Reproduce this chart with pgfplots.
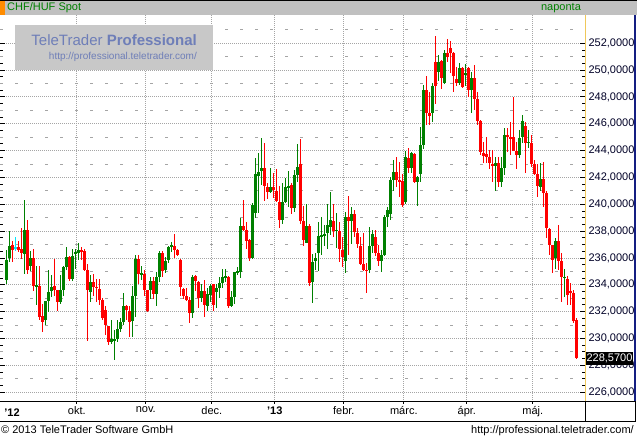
\documentclass[border=0pt]{standalone}
\usepackage{pgfplots}
\pgfplotsset{compat=1.18}
\usepackage{pgfplotstable}
\usepackage{fontspec}
\setmainfont{Liberation Sans}
\definecolor{cgreen}{RGB}{0,128,0}
\definecolor{cred}{RGB}{255,0,0}
\definecolor{ccyan}{RGB}{0,230,255}
\definecolor{titlegray}{RGB}{192,192,192}
\definecolor{gridgray}{RGB}{165,165,165}
\definecolor{ttorange}{RGB}{255,140,0}
\definecolor{ttgreen}{RGB}{0,128,0}
\definecolor{wmbox}{RGB}{200,200,200}
\definecolor{wmtext}{RGB}{110,126,184}
\definecolor{axyellow}{RGB}{240,200,90}
\definecolor{axnavy}{RGB}{20,30,130}

\pgfplotstableread{
i o h l c
0 234.35 236.6 234.1 235.84
1 235.97 238.0 235.7 236.9
2 236.96 237.3 235.7 236.6
3 236.77 237.6 236.5 236.77
4 236.84 237.25 236.47 236.6
5 236.7 238.2 235.9 236.35
6 236.3 240.3 234.8 238.1
7 238.1 238.8 234.8 235.1
8 235.4 236.5 235.05 235.97
9 235.97 236.7 233.56 233.9
10 233.9 235.4 232.5 234.0
11 233.9 235.4 231.4 231.6
12 231.67 232.6 230.5 231.2
13 231.4 232.8 231.0 232.8
14 232.8 235.1 232.0 233.5
15 233.56 234.7 233.1 233.86
16 233.9 235.95 233.2 233.6
17 233.6 233.65 232.07 232.75
18 232.75 234.7 232.6 233.6
19 233.6 235.4 233.2 235.3
20 235.3 236.8 235.1 236.05
21 236.1 236.15 234.3 234.4
22 234.4 236.7 234.3 236.15
23 236.3 236.7 235.2 236.47
24 236.4 237.1 235.85 236.6
25 236.6 236.84 235.85 236.5
26 236.55 236.7 235.05 235.1
27 235.1 235.55 229.8 233.6
28 233.5 234.7 232.75 234.2
29 234.2 234.8 233.2 233.86
30 233.86 234.4 232.75 233.8
31 233.7 234.4 232.5 232.9
32 232.9 233.0 231.4 231.5
33 232.1 232.4 230.3 231.0
34 230.9 230.95 229.5 229.76
35 229.76 231.4 229.6 229.93
36 229.8 230.6 228.4 230.0
37 230.0 231.4 229.76 230.7
38 230.7 231.5 230.5 231.2
39 231.25 233.4 231.0 232.4
40 232.4 232.5 231.4 232.1
41 232.07 232.4 230.1 231.25
42 231.3 233.9 230.1 233.2
43 233.2 236.2 231.6 235.9
44 235.9 236.2 234.1 234.8
45 234.8 235.4 234.35 234.85
46 234.8 235.1 233.2 233.6
47 233.6 233.65 232.0 232.07
48 233.6 234.55 232.95 234.3
49 234.3 234.6 232.95 233.3
50 233.35 234.96 232.4 234.6
51 234.6 236.55 234.2 236.4
52 236.4 236.55 234.6 235.05
53 235.1 236.05 234.9 235.8
54 235.85 236.9 235.65 236.85
55 236.85 237.2 236.47 236.97
56 236.9 237.8 235.97 236.6
57 236.6 236.65 236.15 236.2
58 235.85 235.9 233.2 233.86
59 233.7 233.8 232.95 233.15
60 233.15 233.8 232.8 232.87
61 232.87 233.1 231.18 231.93
62 231.93 234.73 231.5 234.6
63 234.65 234.73 233.57 234.3
64 234.2 234.3 232.25 233.0
65 233.0 234.06 232.75 233.55
66 233.55 234.36 231.6 232.5
67 232.45 233.74 232.08 233.32
68 233.25 234.1 232.75 233.94
69 234.03 234.1 232.08 232.5
70 233.5 234.1 232.25 233.74
71 233.74 234.6 233.0 234.16
72 234.16 235.2 233.74 234.56
73 234.56 235.2 234.2 234.66
74 234.56 234.66 232.3 232.45
75 232.45 233.57 232.32 233.12
76 233.12 234.98 232.57 234.93
77 234.93 235.36 234.73 234.98
78 234.98 239.0 234.49 238.39
79 238.39 240.3 238.01 238.09
80 238.09 238.71 236.67 237.29
81 237.34 237.39 235.8 235.98
82 235.98 240.07 235.95 239.95
83 239.38 243.48 238.96 242.26
84 242.1 243.85 239.33 242.43
85 242.5 244.97 241.44 242.73
86 242.73 244.6 240.27 241.39
87 241.32 241.57 240.4 240.95
88 240.95 242.73 240.87 241.32
89 241.32 242.3 240.45 241.07
90 241.0 242.6 240.2 240.25
91 240.2 241.4 238.26 238.8
92 238.8 241.6 238.5 240.2
93 240.2 242.0 240.07 241.32
94 241.3 242.5 239.83 241.35
95 241.44 241.6 239.28 239.75
96 239.75 242.56 239.45 242.19
97 242.19 244.5 241.69 242.76
98 243.0 244.87 238.53 238.78
99 238.78 239.88 236.92 237.34
100 237.14 240.02 237.09 238.39
101 238.39 238.53 233.91 234.16
102 234.23 236.3 232.67 235.68
103 235.77 236.35 235.1 235.97
104 236.35 238.66 235.03 237.64
105 237.64 239.08 236.22 237.71
106 237.71 238.46 236.9 237.79
107 237.89 240.02 236.65 238.46
108 238.34 240.94 237.71 238.83
109 238.78 240.02 237.59 238.01
110 238.01 239.33 236.72 238.09
111 238.01 238.7 235.68 236.67
112 236.6 237.59 235.35 236.1
113 235.78 239.45 234.86 239.08
114 239.08 240.62 236.23 238.78
115 238.78 239.83 237.04 239.28
116 239.28 239.58 237.59 237.96
117 237.89 238.21 236.77 237.04
118 236.9 237.59 235.48 235.55
119 235.55 237.84 235.06 235.11
120 235.11 235.65 233.42 235.06
121 235.11 238.34 234.91 236.92
122 236.92 238.09 236.4 237.79
123 237.59 238.09 236.18 236.4
124 236.35 236.97 235.43 235.8
125 235.8 236.6 234.98 236.23
126 236.23 239.2 236.15 239.08
127 239.08 239.83 238.34 239.58
128 239.3 242.06 238.83 241.81
129 241.81 243.3 241.02 242.43
130 242.43 243.55 241.32 241.81
131 241.81 243.18 240.57 241.74
132 241.74 242.24 239.78 239.95
133 240.2 244.0 240.02 243.55
134 243.43 244.17 242.36 242.73
135 242.73 243.87 242.36 243.8
136 243.75 243.8 241.57 241.64
137 241.64 242.1 239.88 242.01
138 242.26 245.79 241.69 244.42
139 244.42 248.89 244.1 248.52
140 248.52 249.56 245.91 246.83
141 246.83 248.4 245.91 246.61
142 246.78 249.02 246.16 248.82
143 250.63 252.54 247.48 248.82
144 249.88 251.13 249.19 250.63
145 250.7 250.75 248.59 249.44
146 249.02 251.5 248.97 251.3
147 251.3 252.29 250.63 251.0
148 251.62 252.2 249.81 251.3
149 251.3 251.38 248.4 249.59
150 249.31 250.21 248.82 249.07
151 249.02 250.5 248.89 250.13
152 250.13 250.26 248.7 248.77
153 249.72 250.46 248.82 249.77
154 250.13 250.26 248.02 248.52
155 248.52 249.88 246.83 249.39
156 249.39 250.38 247.03 247.85
157 247.85 248.35 245.91 246.23
158 246.23 246.28 243.67 243.92
159 243.85 244.67 243.05 243.6
160 243.75 245.04 243.05 243.55
161 243.55 244.05 242.61 243.1
162 242.98 244.05 241.69 242.88
163 242.88 243.55 241.02 243.1
164 243.1 243.55 241.32 241.69
165 241.69 243.55 241.32 242.68
166 242.68 245.66 242.19 245.17
167 245.17 245.66 243.92 245.04
168 245.04 246.16 243.67 244.92
169 245.04 248.02 243.95 243.99
170 243.99 244.67 242.61 243.67
171 243.67 245.54 243.43 244.92
172 244.99 246.66 244.54 246.23
173 245.84 246.16 242.31 244.6
174 244.55 245.54 244.17 244.67
175 244.6 245.2 242.8 243.0
176 243.0 243.3 242.19 242.26
177 242.26 243.0 240.57 241.37
178 241.27 243.1 241.02 241.86
179 241.86 243.18 239.78 240.87
180 240.87 241.02 237.47 238.26
181 238.14 238.21 236.22 236.97
182 236.97 237.0 234.86 235.85
183 235.97 237.47 235.16 237.29
184 237.29 238.46 235.11 235.8
185 235.78 236.35 232.75 234.61
186 234.5 235.18 233.12 234.6
187 234.44 234.66 232.5 233.24
188 233.54 234.11 232.5 233.37
189 233.42 233.62 231.18 231.33
190 231.38 231.5 228.5 228.57
}\ohlc

\pgfplotsset{
  wick/.style={draw=none, mark=none, forget plot,
    error bars/y dir=both, error bars/y explicit, error bars/error mark=none,
    error bars/error bar style={draw=#1, line width=1bp}},
  body/.style={draw=none, mark=none, forget plot,
    error bars/y dir=both, error bars/y explicit, error bars/error mark=none,
    error bars/error bar style={draw=#1, line width=2.8bp}},
}

\begin{document}
\begin{tikzpicture}[x=1bp,y=1bp]
\begin{axis}[
  width=585bp, height=387bp, scale only axis,
  xmin=-2.1, xmax=192.9, ymin=225.27, ymax=254.11,
  axis line style={draw=none},
  xtick={23.5,46.5,68.5,89.5,112.5,132.5,153.5,175.5},
  xticklabels={okt.,nov.,dec.,\textbf{'13},febr.,márc.,ápr.,máj.},
  xtick pos=lower,
  x tick style={draw=none},
  ytick={226,228,...,252},
  minor y tick num=3,
  ytick pos=both, yticklabel pos=upper, ytick align=inside,
  y tick style={black, line width=1bp},
  major tick length=5bp, minor tick length=3bp,
  xmajorgrids, ymajorgrids,
  major grid style={gridgray, line width=1bp, dash pattern=on 1bp off 1bp},
  extra y ticks={227,229,...,253},
  extra y tick labels={},
  extra y tick style={grid=major, major grid style={gridgray, line width=1bp, dash pattern=on 3bp off 12bp}, major tick length=0pt, minor tick length=0pt},
  tick label style={font=\fontsize{11bp}{12bp}\selectfont},
  xticklabel style={yshift=-1bp},
  yticklabel style={/pgf/number format/fixed, /pgf/number format/fixed zerofill, /pgf/number format/precision=4, /pgf/number format/use comma, /pgf/number format/1000 sep={}, /pgf/number format/assume math mode=true, text=black!85!blue},
]
\coordinate (AXSW) at (rel axis cs:0,0);
% up candles
\addplot[restrict expr to domain={\thisrow{c}-\thisrow{o}}{0.001:100}, wick=cgreen]
  table[x=i, y expr={(\thisrow{h}+\thisrow{l})/2}, y error expr={(\thisrow{h}-\thisrow{l})/2}] {\ohlc};
\addplot[restrict expr to domain={\thisrow{c}-\thisrow{o}}{0.001:100}, body=cgreen]
  table[x=i, y expr={(\thisrow{o}+\thisrow{c})/2}, y error expr={max(abs(\thisrow{c}-\thisrow{o})/2,0.04)}] {\ohlc};
% down candles
\addplot[restrict expr to domain={\thisrow{c}-\thisrow{o}}{-100:-0.001}, wick=cred]
  table[x=i, y expr={(\thisrow{h}+\thisrow{l})/2}, y error expr={(\thisrow{h}-\thisrow{l})/2}] {\ohlc};
\addplot[restrict expr to domain={\thisrow{c}-\thisrow{o}}{-100:-0.001}, body=cred]
  table[x=i, y expr={(\thisrow{o}+\thisrow{c})/2}, y error expr={max(abs(\thisrow{c}-\thisrow{o})/2,0.04)}] {\ohlc};
% doji
\addplot[restrict expr to domain={\thisrow{c}-\thisrow{o}}{-0.0005:0.0005}, wick=ccyan]
  table[x=i, y expr={(\thisrow{h}+\thisrow{l})/2}, y error expr={(\thisrow{h}-\thisrow{l})/2}] {\ohlc};
\addplot[restrict expr to domain={\thisrow{c}-\thisrow{o}}{-0.0005:0.0005}, body=ccyan]
  table[x=i, y expr={(\thisrow{o}+\thisrow{c})/2}, y error expr={0.04}] {\ohlc};
\end{axis}

\begin{scope}[shift={(AXSW)}]
\begin{scope}[yshift=-38bp]
\pgfresetboundingbox
\useasboundingbox (0,0) rectangle (637,440);
% title bar
\fill[titlegray] (0,425) rectangle (637,440);
\draw[black, line width=1bp] (0,439.5) -- (637,439.5);
\fill[ttorange] (0,425) rectangle (5,439);
\node[anchor=west, text=ttgreen, font=\fontsize{11bp}{12bp}\selectfont, inner sep=0pt] at (7,432) {CHF/HUF Spot};
\node[anchor=center, text=ttgreen, font=\fontsize{11bp}{12bp}\selectfont, inner sep=0pt] at (561,432) {naponta};

% watermark
\fill[wmbox] (15,370) rectangle (213,415);
\node[anchor=east, text=wmtext, font=\fontsize{15bp}{16bp}\selectfont, inner sep=0pt] at (197,400) {TeleTrader \textbf{Professional}};
\node[anchor=east, text=wmtext, font=\fontsize{10bp}{11bp}\selectfont, inner sep=0pt] at (197,383) {http://professional.teletrader.com/};

% right panel borders
\draw[axyellow, line width=1bp] (585.5,38) -- (585.5,425);
\draw[axnavy, line width=2bp] (635,38) -- (635,425);
% bottom bar
\draw[black, line width=1bp] (0,38) -- (636,38);
\draw[black, line width=1bp] (0,18.5) -- (636,18.5);
\draw[black, line width=1bp] (585.5,18) -- (585.5,38);
\draw[black, line width=1bp] (635.5,18) -- (635.5,38);
\foreach \t in {76.8,145.8,211.8,274.8,343.8,403.8,466.8,532.8}
  \draw[black, line width=1bp] (\t,38) -- (\t,35.5);
\node[font=\fontsize{11bp}{12bp}\selectfont\bfseries, inner sep=0pt] at (12,27) {'12};

% last price label
\fill[black] (586,75) rectangle (633,88);
\node[text=white, font=\fontsize{11bp}{12bp}\selectfont, inner sep=0pt] at (609.5,81.5) {228,5700};

% footer
\node[anchor=base west, font=\fontsize{11bp}{12bp}\selectfont, inner sep=0pt] at (1,6) {© 2013 TeleTrader Software GmbH};
\node[anchor=base east, font=\fontsize{11bp}{12bp}\selectfont, inner sep=0pt] at (634,6) {http://professional.teletrader.com/};
\end{scope}
\end{scope}
\end{tikzpicture}
\end{document}
